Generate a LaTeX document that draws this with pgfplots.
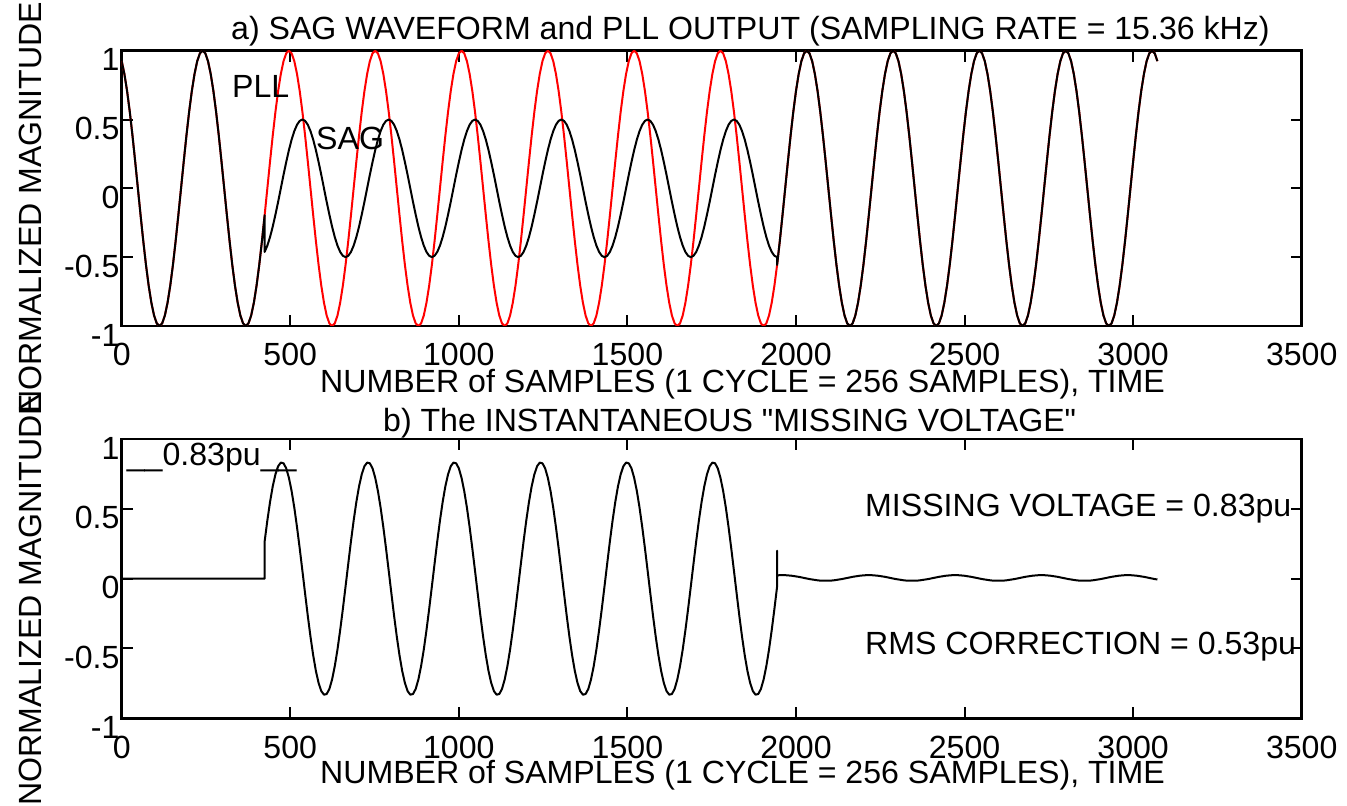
\documentclass[border=0pt]{standalone}
\usepackage{fontspec}
\setmainfont{Liberation Sans}[Ligatures=TeXOff]
\usepackage{pgfplots}
\usepackage{pgfplotstable}
\pgfplotsset{compat=1.18}
\newcommand{\lbl}{\fontsize{32.1}{36}\selectfont}

% x = sample number, pll = PLL output, sag = sagged supply, miss = PLL - sag
\pgfplotstableread{
x pll sag miss
0 0.924 0.924 0
8 0.831 0.831 0
16 0.707 0.707 0
24 0.556 0.556 0
32 0.383 0.383 0
40 0.195 0.195 0
48 0 0 0
56 -0.195 -0.195 0
64 -0.383 -0.383 0
72 -0.556 -0.556 0
80 -0.707 -0.707 0
88 -0.831 -0.831 0
96 -0.924 -0.924 0
104 -0.981 -0.981 0
112 -1 -1 0
120 -0.981 -0.981 0
128 -0.924 -0.924 0
136 -0.831 -0.831 0
144 -0.707 -0.707 0
152 -0.556 -0.556 0
160 -0.383 -0.383 0
168 -0.195 -0.195 0
176 0 0 0
184 0.195 0.195 0
192 0.383 0.383 0
200 0.556 0.556 0
208 0.707 0.707 0
216 0.831 0.831 0
224 0.924 0.924 0
232 0.981 0.981 0
240 1 1 0
248 0.981 0.981 0
256 0.924 0.924 0
264 0.831 0.831 0
272 0.707 0.707 0
280 0.556 0.556 0
288 0.383 0.383 0
296 0.195 0.195 0
304 0 0 0
312 -0.195 -0.195 0
320 -0.383 -0.383 0
328 -0.556 -0.556 0
336 -0.707 -0.707 0
344 -0.831 -0.831 0
352 -0.924 -0.924 0
360 -0.981 -0.981 0
368 -1 -1 0
376 -0.981 -0.981 0
384 -0.924 -0.924 0
392 -0.831 -0.831 0
400 -0.707 -0.707 0
408 -0.556 -0.556 0
416 -0.383 -0.383 0
424 -0.195 -0.195 0
424 -0.195 -0.462 0.267
432 0 -0.416 0.416
440 0.195 -0.354 0.549
448 0.383 -0.278 0.661
456 0.556 -0.191 0.747
464 0.707 -0.098 0.805
472 0.831 0 0.831
480 0.924 0.098 0.826
488 0.981 0.191 0.790
496 1 0.278 0.722
504 0.981 0.354 0.627
512 0.924 0.416 0.508
520 0.831 0.462 0.369
528 0.707 0.490 0.217
536 0.556 0.5 0.056
544 0.383 0.490 -0.107
552 0.195 0.462 -0.267
560 0 0.416 -0.416
568 -0.195 0.354 -0.549
576 -0.383 0.278 -0.661
584 -0.556 0.191 -0.747
592 -0.707 0.098 -0.805
600 -0.831 0 -0.831
608 -0.924 -0.098 -0.826
616 -0.981 -0.191 -0.790
624 -1 -0.278 -0.722
632 -0.981 -0.354 -0.627
640 -0.924 -0.416 -0.508
648 -0.831 -0.462 -0.369
656 -0.707 -0.490 -0.217
664 -0.556 -0.5 -0.056
672 -0.383 -0.490 0.107
680 -0.195 -0.462 0.267
688 0 -0.416 0.416
696 0.195 -0.354 0.549
704 0.383 -0.278 0.661
712 0.556 -0.191 0.747
720 0.707 -0.098 0.805
728 0.831 0 0.831
736 0.924 0.098 0.826
744 0.981 0.191 0.790
752 1 0.278 0.722
760 0.981 0.354 0.627
768 0.924 0.416 0.508
776 0.831 0.462 0.369
784 0.707 0.490 0.217
792 0.556 0.5 0.056
800 0.383 0.490 -0.107
808 0.195 0.462 -0.267
816 0 0.416 -0.416
824 -0.195 0.354 -0.549
832 -0.383 0.278 -0.661
840 -0.556 0.191 -0.747
848 -0.707 0.098 -0.805
856 -0.831 0 -0.831
864 -0.924 -0.098 -0.826
872 -0.981 -0.191 -0.790
880 -1 -0.278 -0.722
888 -0.981 -0.354 -0.627
896 -0.924 -0.416 -0.508
904 -0.831 -0.462 -0.369
912 -0.707 -0.490 -0.217
920 -0.556 -0.5 -0.056
928 -0.383 -0.490 0.107
936 -0.195 -0.462 0.267
944 0 -0.416 0.416
952 0.195 -0.354 0.549
960 0.383 -0.278 0.661
968 0.556 -0.191 0.747
976 0.707 -0.098 0.805
984 0.831 0 0.831
992 0.924 0.098 0.826
1000 0.981 0.191 0.790
1008 1 0.278 0.722
1016 0.981 0.354 0.627
1024 0.924 0.416 0.508
1032 0.831 0.462 0.369
1040 0.707 0.490 0.217
1048 0.556 0.5 0.056
1056 0.383 0.490 -0.107
1064 0.195 0.462 -0.267
1072 0 0.416 -0.416
1080 -0.195 0.354 -0.549
1088 -0.383 0.278 -0.661
1096 -0.556 0.191 -0.747
1104 -0.707 0.098 -0.805
1112 -0.831 0 -0.831
1120 -0.924 -0.098 -0.826
1128 -0.981 -0.191 -0.790
1136 -1 -0.278 -0.722
1144 -0.981 -0.354 -0.627
1152 -0.924 -0.416 -0.508
1160 -0.831 -0.462 -0.369
1168 -0.707 -0.490 -0.217
1176 -0.556 -0.5 -0.056
1184 -0.383 -0.490 0.107
1192 -0.195 -0.462 0.267
1200 0 -0.416 0.416
1208 0.195 -0.354 0.549
1216 0.383 -0.278 0.661
1224 0.556 -0.191 0.747
1232 0.707 -0.098 0.805
1240 0.831 0 0.831
1248 0.924 0.098 0.826
1256 0.981 0.191 0.790
1264 1 0.278 0.722
1272 0.981 0.354 0.627
1280 0.924 0.416 0.508
1288 0.831 0.462 0.369
1296 0.707 0.490 0.217
1304 0.556 0.5 0.056
1312 0.383 0.490 -0.107
1320 0.195 0.462 -0.267
1328 0 0.416 -0.416
1336 -0.195 0.354 -0.549
1344 -0.383 0.278 -0.661
1352 -0.556 0.191 -0.747
1360 -0.707 0.098 -0.805
1368 -0.831 0 -0.831
1376 -0.924 -0.098 -0.826
1384 -0.981 -0.191 -0.790
1392 -1 -0.278 -0.722
1400 -0.981 -0.354 -0.627
1408 -0.924 -0.416 -0.508
1416 -0.831 -0.462 -0.369
1424 -0.707 -0.490 -0.217
1432 -0.556 -0.5 -0.056
1440 -0.383 -0.490 0.107
1448 -0.195 -0.462 0.267
1456 0 -0.416 0.416
1464 0.195 -0.354 0.549
1472 0.383 -0.278 0.661
1480 0.556 -0.191 0.747
1488 0.707 -0.098 0.805
1496 0.831 0 0.831
1504 0.924 0.098 0.826
1512 0.981 0.191 0.790
1520 1 0.278 0.722
1528 0.981 0.354 0.627
1536 0.924 0.416 0.508
1544 0.831 0.462 0.369
1552 0.707 0.490 0.217
1560 0.556 0.5 0.056
1568 0.383 0.490 -0.107
1576 0.195 0.462 -0.267
1584 0 0.416 -0.416
1592 -0.195 0.354 -0.549
1600 -0.383 0.278 -0.661
1608 -0.556 0.191 -0.747
1616 -0.707 0.098 -0.805
1624 -0.831 0 -0.831
1632 -0.924 -0.098 -0.826
1640 -0.981 -0.191 -0.790
1648 -1 -0.278 -0.722
1656 -0.981 -0.354 -0.627
1664 -0.924 -0.416 -0.508
1672 -0.831 -0.462 -0.369
1680 -0.707 -0.490 -0.217
1688 -0.556 -0.5 -0.056
1696 -0.383 -0.490 0.107
1704 -0.195 -0.462 0.267
1712 0 -0.416 0.416
1720 0.195 -0.354 0.549
1728 0.383 -0.278 0.661
1736 0.556 -0.191 0.747
1744 0.707 -0.098 0.805
1752 0.831 0 0.831
1760 0.924 0.098 0.826
1768 0.981 0.191 0.790
1776 1 0.278 0.722
1784 0.981 0.354 0.627
1792 0.924 0.416 0.508
1800 0.831 0.462 0.369
1808 0.707 0.490 0.217
1816 0.556 0.5 0.056
1824 0.383 0.490 -0.107
1832 0.195 0.462 -0.267
1840 0 0.416 -0.416
1848 -0.195 0.354 -0.549
1856 -0.383 0.278 -0.661
1864 -0.556 0.191 -0.747
1872 -0.707 0.098 -0.805
1880 -0.831 0 -0.831
1888 -0.924 -0.098 -0.826
1896 -0.981 -0.191 -0.790
1904 -1 -0.278 -0.722
1912 -0.981 -0.354 -0.627
1920 -0.924 -0.416 -0.508
1928 -0.831 -0.462 -0.369
1936 -0.707 -0.490 -0.217
1944 -0.556 -0.5 -0.056
1944 -0.556 -0.556 0.2
1944 -0.556 -0.556 0.023
1952 -0.383 -0.383 0.025
1960 -0.195 -0.195 0.025
1968 0 0 0.025
1976 0.195 0.195 0.023
1984 0.383 0.383 0.022
1992 0.556 0.556 0.019
2000 0.707 0.707 0.016
2008 0.831 0.831 0.013
2016 0.924 0.924 0.009
2024 0.981 0.981 0.005
2032 1 1 0.001
2040 0.981 0.981 -0.003
2048 0.924 0.924 -0.006
2056 0.831 0.831 -0.009
2064 0.707 0.707 -0.012
2072 0.556 0.556 -0.014
2080 0.383 0.383 -0.015
2088 0.195 0.195 -0.015
2096 0 0 -0.015
2104 -0.195 -0.195 -0.014
2112 -0.383 -0.383 -0.012
2120 -0.556 -0.556 -0.009
2128 -0.707 -0.707 -0.006
2136 -0.831 -0.831 -0.003
2144 -0.924 -0.924 0.001
2152 -0.981 -0.981 0.005
2160 -1 -1 0.009
2168 -0.981 -0.981 0.013
2176 -0.924 -0.924 0.016
2184 -0.831 -0.831 0.019
2192 -0.707 -0.707 0.022
2200 -0.556 -0.556 0.023
2208 -0.383 -0.383 0.025
2216 -0.195 -0.195 0.025
2224 0 0 0.025
2232 0.195 0.195 0.023
2240 0.383 0.383 0.022
2248 0.556 0.556 0.019
2256 0.707 0.707 0.016
2264 0.831 0.831 0.013
2272 0.924 0.924 0.009
2280 0.981 0.981 0.005
2288 1 1 0.001
2296 0.981 0.981 -0.003
2304 0.924 0.924 -0.006
2312 0.831 0.831 -0.009
2320 0.707 0.707 -0.012
2328 0.556 0.556 -0.014
2336 0.383 0.383 -0.015
2344 0.195 0.195 -0.015
2352 0 0 -0.015
2360 -0.195 -0.195 -0.014
2368 -0.383 -0.383 -0.012
2376 -0.556 -0.556 -0.009
2384 -0.707 -0.707 -0.006
2392 -0.831 -0.831 -0.003
2400 -0.924 -0.924 0.001
2408 -0.981 -0.981 0.005
2416 -1 -1 0.009
2424 -0.981 -0.981 0.013
2432 -0.924 -0.924 0.016
2440 -0.831 -0.831 0.019
2448 -0.707 -0.707 0.022
2456 -0.556 -0.556 0.023
2464 -0.383 -0.383 0.025
2472 -0.195 -0.195 0.025
2480 0 0 0.025
2488 0.195 0.195 0.023
2496 0.383 0.383 0.022
2504 0.556 0.556 0.019
2512 0.707 0.707 0.016
2520 0.831 0.831 0.013
2528 0.924 0.924 0.009
2536 0.981 0.981 0.005
2544 1 1 0.001
2552 0.981 0.981 -0.003
2560 0.924 0.924 -0.006
2568 0.831 0.831 -0.009
2576 0.707 0.707 -0.012
2584 0.556 0.556 -0.014
2592 0.383 0.383 -0.015
2600 0.195 0.195 -0.015
2608 0 0 -0.015
2616 -0.195 -0.195 -0.014
2624 -0.383 -0.383 -0.012
2632 -0.556 -0.556 -0.009
2640 -0.707 -0.707 -0.006
2648 -0.831 -0.831 -0.003
2656 -0.924 -0.924 0.001
2664 -0.981 -0.981 0.005
2672 -1 -1 0.009
2680 -0.981 -0.981 0.013
2688 -0.924 -0.924 0.016
2696 -0.831 -0.831 0.019
2704 -0.707 -0.707 0.022
2712 -0.556 -0.556 0.023
2720 -0.383 -0.383 0.025
2728 -0.195 -0.195 0.025
2736 0 0 0.025
2744 0.195 0.195 0.023
2752 0.383 0.383 0.022
2760 0.556 0.556 0.019
2768 0.707 0.707 0.016
2776 0.831 0.831 0.013
2784 0.924 0.924 0.009
2792 0.981 0.981 0.005
2800 1 1 0.001
2808 0.981 0.981 -0.003
2816 0.924 0.924 -0.006
2824 0.831 0.831 -0.009
2832 0.707 0.707 -0.012
2840 0.556 0.556 -0.014
2848 0.383 0.383 -0.015
2856 0.195 0.195 -0.015
2864 0 0 -0.015
2872 -0.195 -0.195 -0.014
2880 -0.383 -0.383 -0.012
2888 -0.556 -0.556 -0.009
2896 -0.707 -0.707 -0.006
2904 -0.831 -0.831 -0.003
2912 -0.924 -0.924 0.001
2920 -0.981 -0.981 0.005
2928 -1 -1 0.009
2936 -0.981 -0.981 0.013
2944 -0.924 -0.924 0.016
2952 -0.831 -0.831 0.019
2960 -0.707 -0.707 0.022
2968 -0.556 -0.556 0.023
2976 -0.383 -0.383 0.025
2984 -0.195 -0.195 0.025
2992 0 0 0.025
3000 0.195 0.195 0.023
3008 0.383 0.383 0.022
3016 0.556 0.556 0.019
3024 0.707 0.707 0.016
3032 0.831 0.831 0.013
3040 0.924 0.924 0.009
3048 0.981 0.981 0.005
3056 1 1 0.001
3064 0.981 0.981 -0.003
3072 0.924 0.924 -0.006
}\wave

\pgfplotsset{
  sagaxis/.style={
    scale only axis,
    width=1180pt,
    xmin=0, xmax=3500, ymin=-1, ymax=1,
    xtick={0,500,1000,1500,2000,2500,3000,3500},
    xticklabels={0,500,1000,1500,2000,2500,3000,3500},
    ytick={-1,-0.5,0,0.5,1},
    yticklabels={-1,-0.5,0,0.5,1},
    tick align=inside,
    tick pos=both,
    xticklabel pos=lower,
    yticklabel pos=left,
    major tick length=11pt,
    every tick/.style={black, line width=2pt},
    axis line style={line width=2.6pt},
    xticklabel style={font=\lbl, anchor=base, inner sep=0pt, yshift=-40pt},
    yticklabel style={font=\lbl, anchor=east, inner sep=0pt, xshift=-2pt, yshift=-9pt},
    every axis plot/.append style={line width=2pt, line join=round},
  }
}

\begin{document}
\begin{tikzpicture}[x=1pt, y=1pt]
\useasboundingbox (0,0) rectangle (1347,806);

\begin{axis}[sagaxis, at={(121.7pt,480pt)}, anchor=south west, height=275.3pt]
  \addplot[red] table[x=x, y=pll] {\wave};
  \addplot[black] table[x=x, y=sag] {\wave};
\end{axis}

\begin{axis}[sagaxis, at={(121.7pt,87.7pt)}, anchor=south west, height=279.3pt]
  \addplot[black] table[x=x, y=miss] {\wave};
\end{axis}

\begin{scope}[every node/.style={font=\lbl, inner sep=0pt, anchor=base west}]
  \node at (231,766.7) {a) SAG WAVEFORM and PLL OUTPUT (SAMPLING RATE = 15.36 kHz)};
  \node at (320,413) {NUMBER of SAMPLES (1 CYCLE = 256 SAMPLES), TIME};
  \node at (383,374) {b) The INSTANTANEOUS "MISSING VOLTAGE"};
  \node at (320,22) {NUMBER of SAMPLES (1 CYCLE = 256 SAMPLES), TIME};
  \node at (232,708) {PLL};
  \node at (316,656) {SAG};
  \node at (126.7,340) {\_\_0.83pu\_\_};
  \node at (865,289.3) {MISSING VOLTAGE = 0.83pu};
  \node at (865,151) {RMS CORRECTION = 0.53pu};
  \node[rotate=90] at (41.7,392) {NORMALIZED MAGNITUDE};
  \node[rotate=90] at (41.7,0) {NORMALIZED MAGNITUDE};
\end{scope}
\end{tikzpicture}
\end{document}
